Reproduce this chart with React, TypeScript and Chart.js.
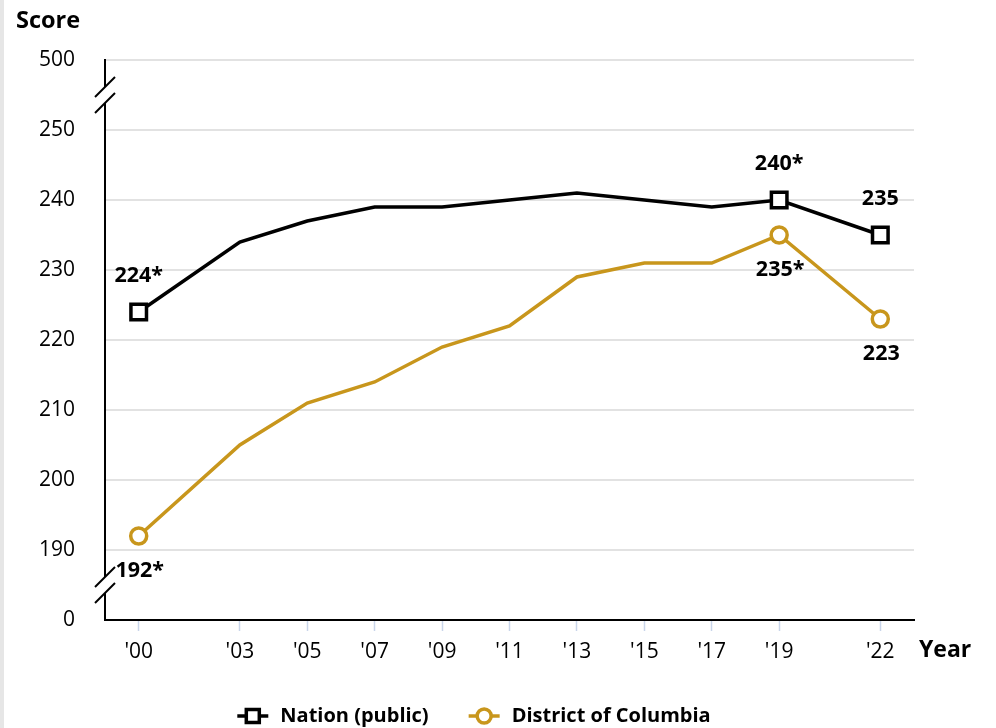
import { useEffect, useRef } from "react";
import { Chart, registerables } from "chart.js";

Chart.register(...registerables);

const years = [2000, 2003, 2005, 2007, 2009, 2011, 2013, 2015, 2017, 2019, 2022];
const nationScores = [224, 234, 237, 239, 239, 240, 241, 240, 239, 240, 235];
const dcScores = [192, 205, 211, 214, 219, 222, 229, 231, 231, 235, 223];
const markerIndices = [0, 9, 10];
const nationLabels = ["224*", "", "", "", "", "", "", "", "", "240*", "235"];
const dcLabels = ["192*", "", "", "", "", "", "", "", "", "235*", "223"];
// axis positions (broken axis): 180 stands for 0, 260 stands for 500
const yTickPositions = [180, 190, 200, 210, 220, 230, 240, 250, 260];
const yTickLabels = ["0", "190", "200", "210", "220", "230", "240", "250", "500"];
const yBreakPositions = [185, 255];
const seriesNames = ["Nation (public)", "District of Columbia"];

const FONT = "'Open Sans', 'Noto Sans', sans-serif";
const GOLD = "#C8961C";

const overlayPlugin = {
  id: "overlay",
  beforeDraw(chart: any) {
    const ctx = chart.ctx;
    ctx.save();
    ctx.fillStyle = "#e6e6e6";
    ctx.fillRect(0, 0, 4, chart.height);
    ctx.restore();
  },
  afterDraw(chart: any) {
    const ctx = chart.ctx;
    const yScale = chart.scales.y;
    const xScale = chart.scales.x;
    const area = chart.chartArea;
    ctx.save();
    // axis breaks
    for (const b of yBreakPositions) {
      const yc = yScale.getPixelForValue(b);
      const x = area.left;
      ctx.fillStyle = "#ffffff";
      ctx.beginPath();
      ctx.moveTo(x - 10, yc - 8 + 10);
      ctx.lineTo(x + 10, yc - 8 - 10);
      ctx.lineTo(x + 10, yc + 8 - 10);
      ctx.lineTo(x - 10, yc + 8 + 10);
      ctx.closePath();
      ctx.fill();
      ctx.strokeStyle = "#000";
      ctx.lineWidth = 2;
      for (const off of [-8, 8]) {
        ctx.beginPath();
        ctx.moveTo(x - 10, yc + off + 10);
        ctx.lineTo(x + 10, yc + off - 10);
        ctx.stroke();
      }
    }
    // data labels
    ctx.font = `bold 21.5px ${FONT}`;
    ctx.fillStyle = "#000";
    ctx.textAlign = "center";
    ctx.textBaseline = "middle";
    years.forEach((yr, i) => {
      const x = xScale.getPixelForValue(yr);
      if (nationLabels[i]) ctx.fillText(nationLabels[i], x, yScale.getPixelForValue(nationScores[i]) - 36);
      if (dcLabels[i]) ctx.fillText(dcLabels[i], x + 1, yScale.getPixelForValue(dcScores[i]) + 35);
    });
    // axis titles
    ctx.textAlign = "left";
    ctx.font = `bold 23.5px ${FONT}`;
    ctx.fillText("Score", 16, 21);
    ctx.font = `bold 23px ${FONT}`;
    ctx.fillText("Year", 919, 650);
    // legend
    ctx.font = `bold 20px ${FONT}`;
    const iconW = 31;
    const gapIconText = 12;
    const gapItems = 40;
    const w1 = ctx.measureText(seriesNames[0]).width;
    const w2 = ctx.measureText(seriesNames[1]).width;
    const total = iconW + gapIconText + w1 + gapItems + iconW + gapIconText + w2;
    let lx = 474 - total / 2;
    const ly = 716;
    // item 1
    ctx.strokeStyle = "#000";
    ctx.lineWidth = 3.5;
    ctx.beginPath();
    ctx.moveTo(lx, ly);
    ctx.lineTo(lx + iconW, ly);
    ctx.stroke();
    ctx.fillStyle = "#fff";
    ctx.fillRect(lx + iconW / 2 - 6.5, ly - 6.5, 13, 13);
    ctx.strokeRect(lx + iconW / 2 - 6.5, ly - 6.5, 13, 13);
    ctx.fillStyle = "#000";
    ctx.fillText(seriesNames[0], lx + iconW + gapIconText, ly);
    lx += iconW + gapIconText + w1 + gapItems;
    // item 2
    ctx.strokeStyle = GOLD;
    ctx.beginPath();
    ctx.moveTo(lx, ly);
    ctx.lineTo(lx + iconW, ly);
    ctx.stroke();
    ctx.fillStyle = "#fff";
    ctx.beginPath();
    ctx.arc(lx + iconW / 2, ly, 7, 0, Math.PI * 2);
    ctx.fill();
    ctx.stroke();
    ctx.fillStyle = "#000";
    ctx.fillText(seriesNames[1], lx + iconW + gapIconText, ly);
    ctx.restore();
  },
};

export default function App() {
  const ref = useRef<HTMLCanvasElement | null>(null);
  useEffect(() => {
    if (!ref.current) return;
    const pointRadius = (r: number) => (c: any) => (markerIndices.includes(c.dataIndex) ? r : 0);
    const chart = new Chart(ref.current, {
      type: "line",
      data: {
        datasets: [
          {
            label: seriesNames[0],
            data: years.map((x, i) => ({ x, y: nationScores[i] })),
            borderColor: "#000",
            borderWidth: 3.5,
            pointStyle: "rect",
            pointRadius: pointRadius(11),
            pointHoverRadius: pointRadius(11),
            pointBackgroundColor: "#fff",
            pointBorderColor: "#000",
            pointBorderWidth: 3.5,
            tension: 0,
          },
          {
            label: seriesNames[1],
            data: years.map((x, i) => ({ x, y: dcScores[i] })),
            borderColor: GOLD,
            borderWidth: 3.5,
            pointStyle: "circle",
            pointRadius: pointRadius(8),
            pointHoverRadius: pointRadius(8),
            pointBackgroundColor: "#fff",
            pointBorderColor: GOLD,
            pointBorderWidth: 3.5,
            tension: 0,
          },
        ],
      },
      options: {
        animation: false,
        responsive: false,
        devicePixelRatio: 1,
        layout: { padding: { top: 60, right: 82, left: 0, bottom: 0 } },
        plugins: { legend: { display: false }, tooltip: { enabled: false } },
        scales: {
          x: {
            type: "linear",
            min: 1999,
            max: 2023,
            afterBuildTicks: (s: any) => {
              s.ticks = years.map((v) => ({ value: v }));
            },
            afterFit: (s: any) => {
              s.height = 108;
            },
            grid: {
              drawOnChartArea: false,
              drawTicks: true,
              tickLength: 11,
              tickColor: "#c9d5ea",
              tickWidth: 1.5,
            },
            border: { display: true, color: "#000", width: 2 },
            ticks: {
              padding: 8,
              color: "#000",
              font: { family: FONT, size: 21 },
              maxRotation: 0,
              autoSkip: false,
              callback: (v: any) => "'" + String(v).slice(2),
            },
          },
          y: {
            type: "linear",
            min: 180,
            max: 260,
            afterBuildTicks: (s: any) => {
              s.ticks = yTickPositions.map((v) => ({ value: v }));
            },
            afterFit: (s: any) => {
              s.width = 105;
            },
            grid: {
              drawTicks: false,
              color: (c: any) => (c.tick && c.tick.value === 180 ? "rgba(0,0,0,0)" : "#e2e2e2"),
              lineWidth: 2,
            },
            border: { display: true, color: "#000", width: 2 },
            ticks: {
              padding: 30,
              color: "#000",
              font: { family: FONT, size: 21 },
              autoSkip: false,
              callback: (v: any) => {
                const i = yTickPositions.indexOf(Number(v));
                return i >= 0 ? yTickLabels[i] : "";
              },
            },
          },
        },
      },
      plugins: [overlayPlugin],
    });
    return () => chart.destroy();
  }, []);
  return (
    <div style={{ position: "fixed", left: 0, top: 0, width: 996, height: 728, background: "#fff" }}>
      <canvas ref={ref} width={996} height={728} style={{ display: "block", width: 996, height: 728 }} />
    </div>
  );
}
